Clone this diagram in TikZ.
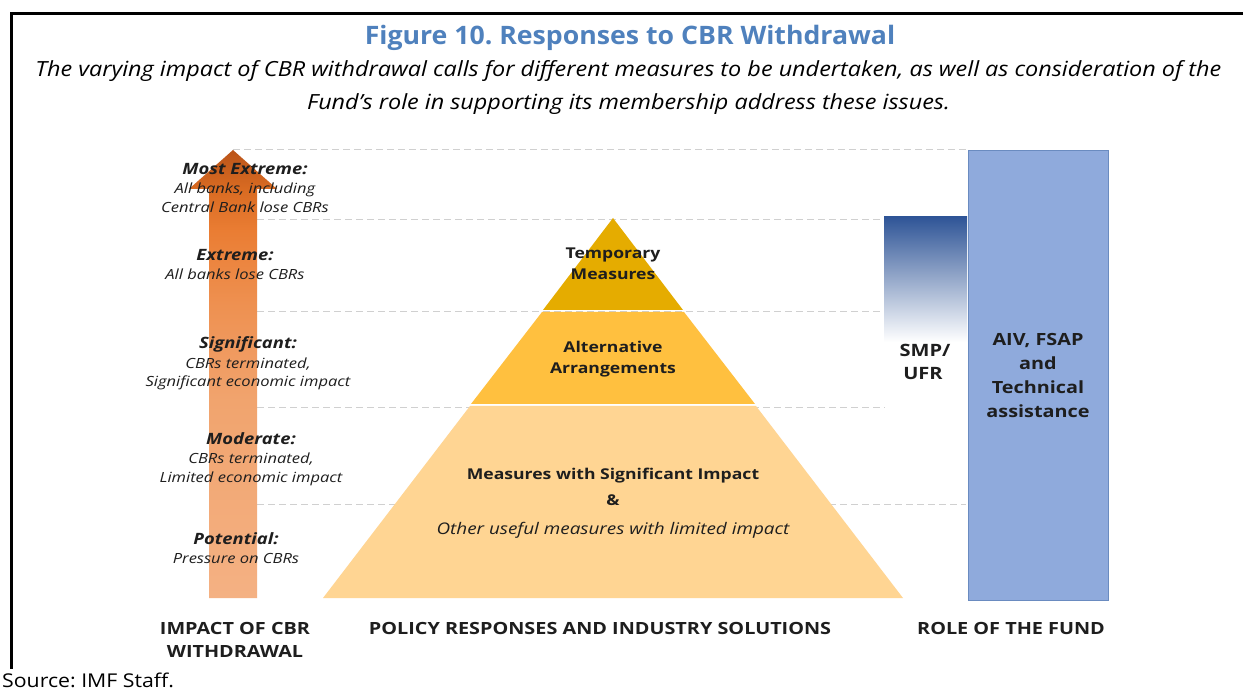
\documentclass[tikz,border=0pt]{standalone}
\usepackage{fontspec}
\setmainfont{Open Sans}
\newfontfamily\dfont[FakeStretch=1.18]{Open Sans}
\newfontfamily\tfont[FakeStretch=1.05]{Open Sans}
\newfontfamily\sfont[FakeStretch=1.12]{Open Sans}
\frenchspacing
\definecolor{titleblue}{HTML}{4F81BD}
\definecolor{pyrtop}{HTML}{E5AC00}
\definecolor{pyrmid}{HTML}{FFC03F}
\definecolor{pyrbot}{HTML}{FFD593}
\definecolor{smpblue}{HTML}{2F5597}
\definecolor{boxfill}{HTML}{8FAADC}
\definecolor{boxedge}{HTML}{6A8BC0}
\definecolor{arrA}{HTML}{F4B183}
\definecolor{arrB}{HTML}{F1A46E}
\definecolor{arrC}{HTML}{EE9050}
\definecolor{arrD}{HTML}{EA7D33}
\definecolor{arrE}{HTML}{D96B22}
\definecolor{arrF}{HTML}{BA5419}
\definecolor{dashgray}{HTML}{D0D0D0}
\definecolor{txt}{HTML}{1E1E1E}
\pgfdeclareverticalshading{arrowshade}{100bp}{color(0bp)=(arrA); color(25bp)=(arrA); color(47bp)=(arrB); color(58bp)=(arrC); color(66bp)=(arrD); color(70.6bp)=(arrE); color(75bp)=(arrF); color(100bp)=(arrF)}
\tikzset{
  titletext/.style={font=\tfont\fontsize{25.4}{28}\selectfont\bfseries, text=titleblue, inner sep=0},
  subtext/.style={font=\sfont\fontsize{20.9}{24}\selectfont\itshape, text=black, inner sep=0},
  lvlhead/.style={font=\dfont\fontsize{15.6}{16}\selectfont\bfseries\itshape, text=txt, inner sep=0},
  lvltext/.style={font=\dfont\fontsize{14}{14}\selectfont\itshape, text=txt, inner sep=0},
  pyrtext/.style={font=\dfont\fontsize{14.9}{16}\selectfont\bfseries, text=txt, inner sep=0},
  pyritext/.style={font=\dfont\fontsize{16}{16}\selectfont\itshape, text=txt, inner sep=0},
  boxtext/.style={font=\dfont\fontsize{16.8}{24}\selectfont\bfseries, text=txt, align=center},
  smptext/.style={font=\dfont\fontsize{17}{20}\selectfont\bfseries, text=txt, inner sep=0},
  axistext/.style={font=\dfont\fontsize{16.8}{23}\selectfont\bfseries, text=txt, inner sep=0},
  guide/.style={draw=dashgray, line width=1pt, dash pattern=on 7pt off 4pt},
}
\begin{document}
\begin{tikzpicture}[x=1pt,y=-1pt]
\useasboundingbox (0,0) rectangle (1243,692);
\fill[white] (0,0) rectangle (1243,692);
% frame
\draw[line width=3pt] (1243,14) -- (11,14) -- (11,669);
% title and subtitle
\node[titletext, anchor=base] (title) at (630,45) {Figure 10. Responses to CBR Withdrawal};
\node[subtext, anchor=base] (sub1) at (628.5,77) {The varying impact of CBR withdrawal calls for different measures to be undertaken, as well as consideration of the};
\node[subtext, anchor=base] (sub2) at (628.5,110) {Fund’s role in supporting its membership address these issues.};
% guide lines
\draw[guide] (233,150) -- (966,150);
\draw[guide] (257,220) -- (882,220);
\draw[guide] (257,312) -- (882,312);
\draw[guide] (257,408) -- (885,408);
\draw[guide] (257,505) -- (966,505);
% arrow
\shade[shading=arrowshade] (209,598) -- (209,189) -- (189,189) -- (233,150) -- (277,189) -- (257,189) -- (257,598) -- cycle;
% pyramid
\fill[pyrbot] (470,406) -- (756,406) -- (903,598) -- (323,598) -- cycle;
\fill[pyrmid] (542,312) -- (684,312) -- (755,404) -- (471,404) -- cycle;
\fill[pyrtop] (613,218) -- (683,310) -- (543,310) -- cycle;
% pyramid texts
\node[pyrtext, anchor=base] (tm1) at (613,259) {Temporary};
\node[pyrtext, anchor=base] (tm2) at (613,280) {Measures};
\node[pyrtext, anchor=base] (aa1) at (613,353) {Alternative};
\node[pyrtext, anchor=base] (aa2) at (613,374) {Arrangements};
\node[pyrtext, anchor=base] (ms1) at (613,479) {Measures with Significant Impact};
\node[pyrtext, anchor=base] (ms2) at (613,506) {\&};
\node[pyritext, anchor=base] (ms3) at (613,534) {Other useful measures with limited impact};
% SMP box
\shade[top color=smpblue, bottom color=white] (884,217) rectangle (967,342);
\node[smptext, anchor=base] (smp1) at (925,357) {SMP/};
\node[smptext, anchor=base] (smp2) at (923,380) {UFR};
% Fund box
\node[boxtext, draw=boxedge, line width=1pt, fill=boxfill, minimum width=140pt, minimum height=449pt, inner sep=0] (fund) at (1038,375.5) {AIV, FSAP\\and\\Technical\\assistance};
% level labels
\node[lvlhead, anchor=base] (l1a) at (245,175) {Most Extreme:};
\node[lvltext, anchor=base] (l1b) at (245,194) {All banks, including};
\node[lvltext, anchor=base] (l1c) at (245,213) {Central Bank lose CBRs};
\node[lvlhead, anchor=base] (l2a) at (235,261) {Extreme:};
\node[lvltext, anchor=base] (l2b) at (235,280) {All banks lose CBRs};
\node[lvlhead, anchor=base] (l3a) at (248,349) {Significant:};
\node[lvltext, anchor=base] (l3b) at (248,369) {CBRs terminated,};
\node[lvltext, anchor=base] (l3c) at (248,387) {Significant economic impact};
\node[lvlhead, anchor=base] (l4a) at (251,445) {Moderate:};
\node[lvltext, anchor=base] (l4b) at (251,464) {CBRs terminated,};
\node[lvltext, anchor=base] (l4c) at (251,483) {Limited economic impact};
\node[lvlhead, anchor=base] (l5a) at (236,544) {Potential:};
\node[lvltext, anchor=base] (l5b) at (236,563) {Pressure on CBRs};
% axis labels
\node[axistext, anchor=base] (ax1) at (235,634) {IMPACT OF CBR};
\node[axistext, anchor=base] (ax1b) at (235,657) {WITHDRAWAL};
\node[axistext, anchor=base] (ax2) at (600,634) {POLICY RESPONSES AND INDUSTRY SOLUTIONS};
\node[axistext, anchor=base] (ax3) at (1011,634) {ROLE OF THE FUND};
% source
\node[font=\sfont\fontsize{19}{20}\selectfont, anchor=base west, inner sep=0, text=black] (src) at (2,687) {Source: IMF Staff.};
\end{tikzpicture}
\end{document}
